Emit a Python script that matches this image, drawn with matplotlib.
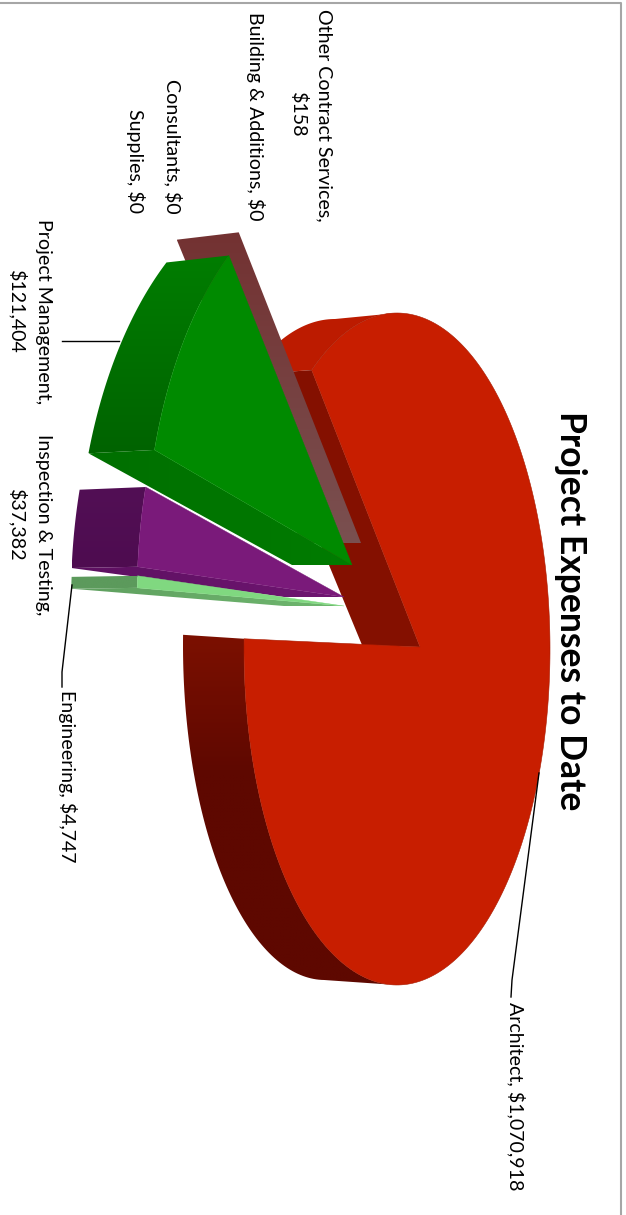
import numpy as np
import matplotlib
matplotlib.use("Agg")
import matplotlib.pyplot as plt
from matplotlib.colors import to_rgb
from matplotlib.patches import Polygon

plt.rcParams['font.family'] = ['Lato', 'DejaVu Sans']

title = "Project Expenses to Date"
categories = ["Architect", "Other Contract Services", "Building & Additions",
              "Consultants", "Supplies", "Project Management",
              "Inspection & Testing", "Engineering"]
expenses = [1070918, 158, 0, 0, 0, 121404, 37382, 4747]

# main pie: front ellipse, back ellipses, perspective shift of the centre
FRONT = (397, 649, 153, 336)
BACK_TOP = (335, 645, 152, 326)
BACK_LOW = (325, 645, 142, 335)
SHIFT = 0.15
START = 178.5
APEX = (420, 647)
APEX_BACK = (362, 645)

# pulled-out slices: apex position, and the start angle / sweep stretch of each
SLICE_A, SLICE_B = 207, 385
slices = {
    1: dict(apex=(361, 543), start=126.2, stretch=1.0,
            wall=("#733232", "#7a5050")),
    5: dict(apex=(352, 565), start=126.5, stretch=1.02, front="#008a00",
            rim=("#007d00", "#006300"), edge=("#006f00", "#007c00")),
    6: dict(apex=(344, 597), start=163.4, stretch=1.11, front="#7a1a7a",
            rim=("#520f55", "#4e0c50"), edge=("#5c1060", "#701672")),
    7: dict(apex=(344, 606), start=175.5, stretch=1.3, front="#80d880",
            rim=("#5c9a5c", "#5c9a5c"), edge=("#5f9f5f", "#6fb76f")),
}

RED_FRONT = "#c81e00"
RED_TOP = "#bc1b00"
RED_INNER = "#841000"
RED_WALL = ("#7c1000", "#5e0800")


def main_rim(theta, ellipse):
    cx, cy, a, b = ellipse
    t = np.radians(theta)
    d = 1 + SHIFT * np.cos(t)
    x = (np.cos(t) + SHIFT) / d
    y = np.sin(t) * np.sqrt(1 - SHIFT ** 2) / d
    return np.column_stack([cx + a * x, cy - b * y])


def slice_rim(apex, phi):
    t = np.radians(phi)
    return np.column_stack([apex[0] + SLICE_A * np.cos(t),
                            apex[1] - SLICE_B * np.sin(t)])


def push_back(pts):
    # depth of the pie grows a little towards the lower part of the drawing
    y = pts[:, 1]
    dx = -62 - 4 * np.clip((y - 233) / 217, 0, 1)
    dy = 7 - (y - 253) * 6 / 327
    return pts + np.column_stack([dx, dy])


def apex_back(apex):
    return (apex[0] - 60, apex[1])


def shaded(ax, pts, colors, zorder, vertical=True, stop=1.0):
    # polygon filled with a linear gradient, done as a clipped image
    pts = np.asarray(pts)
    x0, y0 = pts.min(axis=0)
    x1, y1 = pts.max(axis=0)
    c0, c1 = np.array(to_rgb(colors[0])), np.array(to_rgb(colors[1]))
    u = np.clip(np.linspace(0, 1, 256) / stop, 0, 1)[:, None]
    ramp = c0 + (c1 - c0) * u
    img = ramp[:, None, :] if vertical else ramp[None, :, :]
    im = ax.imshow(img, extent=(x0, x1, y1, y0), origin="upper", aspect="auto",
                   interpolation="bilinear", zorder=zorder)
    im.set_clip_path(Polygon(pts, closed=True, transform=ax.transData))


fig = plt.figure(figsize=(6.26, 12.15), dpi=100)
ax = fig.add_axes([0, 0, 1, 1])
ax.set_autoscale_on(False)
ax.set_xlim(0, 626)
ax.set_ylim(1215, 0)
ax.axis("off")

total = sum(expenses)
sweeps = [v / total * 360 for v in expenses]

# Architect slice
red_end = START + sweeps[0]

th = np.linspace(START, 261, 80)
wall = np.vstack([main_rim(th, FRONT), main_rim(th, BACK_LOW)[::-1]])
shaded(ax, wall, RED_WALL, 1, stop=0.4)
th = np.linspace(98.6, red_end - 360, 40)
wall = np.vstack([main_rim(th, FRONT), main_rim(th, BACK_TOP)[::-1]])
ax.fill(*wall.T, color=RED_TOP, lw=0, zorder=1)
end_f = main_rim(np.array([red_end]), FRONT)[0]
end_b = main_rim(np.array([red_end]), BACK_TOP)[0]
ax.fill(*zip(APEX, end_f, end_b, APEX_BACK), color=RED_INNER, lw=0, zorder=2)
rim = main_rim(np.linspace(START, red_end, 300), FRONT)
ax.fill(*zip(APEX, *rim, APEX), facecolor=RED_FRONT, edgecolor="#a81a00", lw=0.4, zorder=3)

# Other Contract Services is so thin that only its side wall shows
s = slices[1]
f = slice_rim(s["apex"], s["start"])[0]
b = push_back(f[None])[0]
shaded(ax, [f, s["apex"], apex_back(s["apex"]), b], s["wall"], 4)

# the other slices, far ones first
for i in [5, 6, 7]:
    s = slices[i]
    tip = s["apex"]
    phi = s["start"] + np.linspace(0, sweeps[i] * s["stretch"], 60)
    front = slice_rim(tip, phi)
    back = push_back(front)
    shaded(ax, np.vstack([front, back[::-1]]), s["rim"], 5 + i)
    # wall along the lower cut
    quad = [front[-1], tip, apex_back(tip), back[-1]]
    shaded(ax, quad, s["edge"], 5 + i, vertical=False)
    ax.fill(*zip(tip, *front, tip), color=s["front"], lw=0.3, zorder=5.5 + i)

# leader lines
ax.plot([62, 119], [341, 341], color="k", lw=1, zorder=20)
ax.plot([72, 62, 62], [585, 672, 687], color="k", lw=1, zorder=20)
ax.plot([539, 512, 511], [773, 980, 997], color="k", lw=1, zorder=20)

# chart border
ax.plot([0, 621, 621], [3, 3, 1215], color="#a6a6a6", lw=1.5, zorder=0)


def money(i):
    return "${:,}".format(expenses[i])


labels = [
    (0, 516, 1096, "{}, {}"),
    (1, 311, 115, "{},\n{}"),
    (2, 255, 116, "{}, {}"),
    (3, 173, 146, "{}, {}"),
    (4, 136, 161, "{}, {}"),
    (5, 30, 312, "{},\n{}"),
    (6, 30, 525, "{},\n{}"),
    (7, 67, 776, "{}, {}"),
]
for i, x, y, fmt in labels:
    ax.text(x, y, fmt.format(categories[i], money(i)), rotation=-90, fontsize=14.1,
            ha="center", va="center", multialignment="center", linespacing=1.55,
            color="k", zorder=21)

ax.text(570, 611, title, rotation=-90, fontsize=25.6, fontweight="bold",
        ha="center", va="center", color="k", zorder=21)

fig.savefig("out.png", dpi=100)
